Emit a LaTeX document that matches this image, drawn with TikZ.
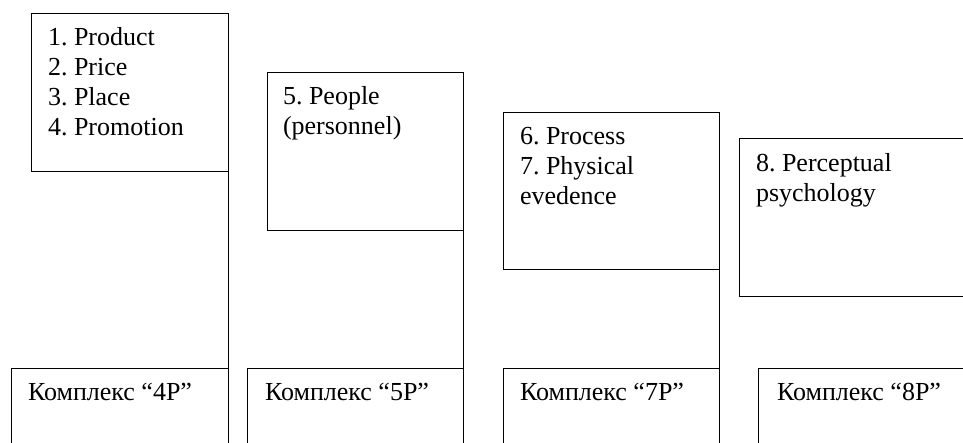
\documentclass[tikz,border=0pt]{standalone}
\usepackage{fontspec}
\setmainfont{Liberation Serif}
\begin{document}
\begin{tikzpicture}[x=1pt,y=-1pt,
  box/.style={draw=black,line width=1pt,anchor=north west,inner sep=0pt,outer sep=0pt,fill=none},
  lbl/.style={anchor=base west,inner sep=0pt,outer sep=0pt,font=\fontsize{26}{30}\selectfont\frenchspacing},
  link/.style={draw=black,line width=1pt}]
\useasboundingbox (0,0) rectangle (963,443);
\clip (0,0) rectangle (963,443);
% top boxes
\node[box,minimum width=197pt,minimum height=158pt] (b1) at (31,14) {};
\node[box,minimum width=196pt,minimum height=158pt] (b2) at (267,73) {};
\node[box,minimum width=216pt,minimum height=157pt] (b3) at (503,113) {};
\node[box,minimum width=260pt,minimum height=158pt] (b4) at (739,139) {};
% bottom boxes
\node[box,minimum width=217pt,minimum height=100pt] (k1) at (11,368) {};
\node[box,minimum width=216pt,minimum height=100pt] (k2) at (247,368) {};
\node[box,minimum width=216pt,minimum height=100pt] (k3) at (503,368) {};
\node[box,minimum width=230pt,minimum height=100pt] (k4) at (758,368) {};
% texts
\node[lbl] (t1) at (48,46) {\parbox[t]{170pt}{\raggedright 1. Product\\2. Price\\3. Place\\4. Promotion}};
\node[lbl] (t2) at (283,105) {\parbox[t]{170pt}{\raggedright 5. People\\(personnel)}};
\node[lbl] (t3) at (520,145) {\parbox[t]{190pt}{\raggedright 6. Process\\7. Physical\\evedence}};
\node[lbl] (t4) at (756,172) {\parbox[t]{200pt}{\raggedright 8. Perceptual\\psychology}};
\node[lbl] (u1) at (28,400) {Комплекс “4P”};
\node[lbl] (u2) at (265,400) {Комплекс “5P”};
\node[lbl] (u3) at (520,400) {Комплекс “7P”};
\node[lbl] (u4) at (777,400) {Комплекс “8P”};
% connectors
\draw[link] (b1.south east) -- (k1.south east);
\draw[link] (b2.south east) -- (k2.south east);
\draw[link] (b3.south east) -- (k3.south east);
\end{tikzpicture}
\end{document}
